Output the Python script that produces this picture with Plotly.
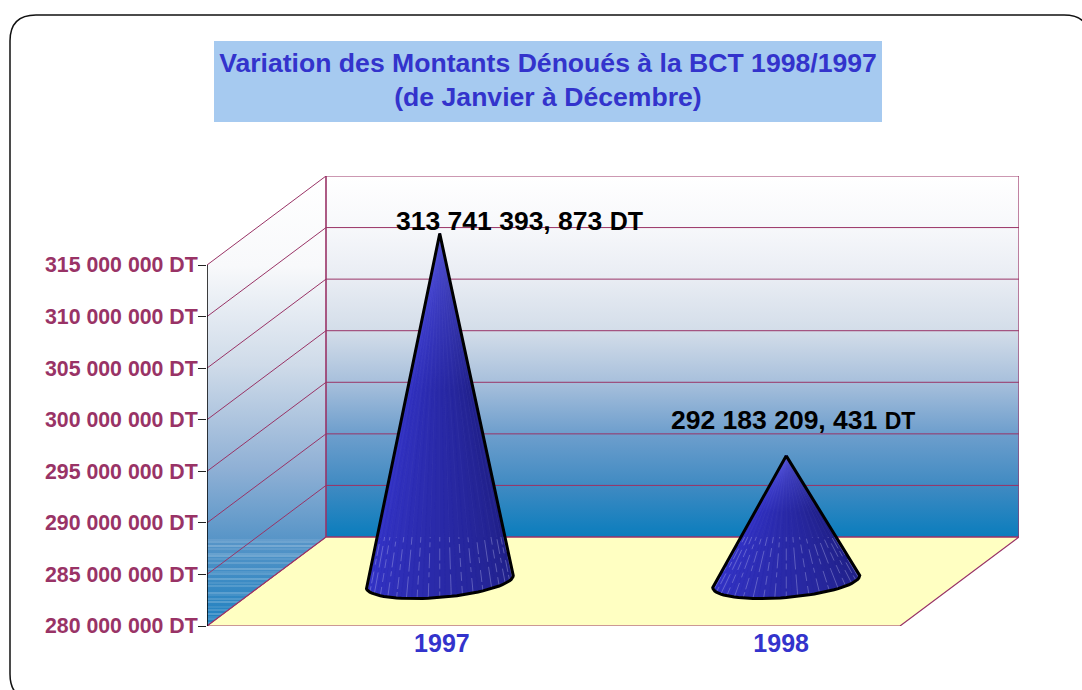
import math
import plotly.graph_objects as go

# ---- data ----
years = ["1997", "1998"]
values = [313741393.873, 292183209.431]
value_labels = ["313 741 393, 873", "292 183 209, 431"]
tick_values = [280e6, 285e6, 290e6, 295e6, 300e6, 305e6, 310e6, 315e6]
tick_labels = ["280 000 000 DT", "285 000 000 DT", "290 000 000 DT", "295 000 000 DT",
               "300 000 000 DT", "305 000 000 DT", "310 000 000 DT", "315 000 000 DT"]
title_text = "Variation des Montants Dénoués à la BCT 1998/1997<br>(de Janvier à Décembre)"

# ---- layout geometry ----
W, H = 1082, 690
L, R, T, B = 207, 900, 265, 626      # front plane of the 3D box in page pixels
YMIN, YMAX = tick_values[0], tick_values[-1]
n = len(years)
px_x = (R - L) / n                   # pixels per category
px_y = (B - T) / (YMAX - YMIN)       # pixels per value unit
DX = 119 / px_x                      # depth offset in category units
DY = 89 / px_y                       # depth offset in value units
top_back = YMAX + DY
floor_back = YMIN + DY
# the plot area spans the whole box, front plane plus depth
AREA_R = R + 119
AREA_T = T - 89

MAROON = "#993366"
BLUE = "#3333cc"


def paper(px, py):
    return (px - L) / (AREA_R - L), (B - py) / (B - AREA_T)


def poly(xs, ys, fill=None, gradient=None, line=None, width=1, dash=None):
    kw = dict(x=xs, y=ys, mode="lines", hoverinfo="skip", showlegend=False)
    kw["line"] = dict(color=line or "rgba(0,0,0,0)", width=width if line else 0)
    if dash:
        kw["line"]["dash"] = dash
    if fill or gradient:
        kw["fill"] = "toself"
    if fill:
        kw["fillcolor"] = fill
    if gradient:
        kw["fillgradient"] = gradient
    return go.Scatter(**kw)


wall_scale_back = [[0, "#0a7dbd"], [0.14, "#3f8ac2"], [0.29, "#6f9fcd"], [0.43, "#a8c0dc"],
                   [0.57, "#d3dde9"], [0.71, "#e8ecf3"], [0.86, "#f7f8fb"], [1, "#ffffff"]]
wall_scale_left = [[0, "#1e80c0"], [0.2, "#5a96c8"], [0.35, "#8fb0d5"], [0.58, "#cfdbe9"],
                   [0.8, "#f8f9fb"], [1, "#ffffff"]]

fig = go.Figure()

# back wall
fig.add_trace(poly([DX, n + DX, n + DX, DX, DX], [floor_back, floor_back, top_back, top_back, floor_back],
                   gradient=dict(type="vertical", colorscale=wall_scale_back, start=floor_back, stop=top_back)))
# left wall
fig.add_trace(poly([0, DX, DX, 0, 0], [YMIN, floor_back, top_back, YMAX, YMIN],
                   gradient=dict(type="vertical", colorscale=wall_scale_left, start=YMIN, stop=top_back)))
# pale banding low on the left wall
gaps = [3, 2, 4, 3, 5, 2, 3, 4, 6, 3, 2, 5, 4, 3, 7, 2, 4, 3, 5, 3, 4, 3, 2, 4]
py = 537
for i, g in enumerate(gaps):
    py += g
    if py >= 626:
        break
    v = YMIN + (B - py) / px_y
    xe = DX * (v - YMIN) / DY
    op = 0.18 + 0.22 * ((i * 7) % 3) / 2
    fig.add_trace(poly([0, xe], [v, v], line=f"rgba(255,255,255,{op})", width=1))
# floor
fig.add_trace(poly([0, DX, n + DX, n, 0], [YMIN, floor_back, floor_back, YMIN, YMIN], fill="#ffffc2",
                   line=MAROON, width=1.2))
# gridlines on the walls
for tv in tick_values:
    fig.add_trace(poly([0, DX, n + DX], [tv, tv + DY, tv + DY], line=MAROON, width=1))
# box edges
fig.add_trace(poly([DX, DX], [floor_back, top_back], line=MAROON, width=1.6))
fig.add_trace(poly([n + DX, n + DX], [floor_back, top_back], line=MAROON, width=1.2))
# value axis line, front plane only
fig.add_trace(poly([0, 0], [YMIN, YMAX], line="#000000", width=1.5))


def mix(a, b, f):
    return "rgb(%d,%d,%d)" % tuple(a[i] + (b[i] - a[i]) * f for i in range(3))


seam_dashes = ["9px,5px", "15px,6px,5px,4px", "6px,3px,12px,7px", "22px,5px"]
CONE_RX, CONE_TILT, CONE_RY = 73.5, 6.0, 16.0   # pixels
for i, (year, val) in enumerate(zip(years, values)):
    cx = i + 0.5 + DX / 2
    cy = YMIN + DY / 2
    apex = val + DY / 2

    def rim_t(u):
        t = math.pi * (1 - u)
        c = math.cos(t)
        return (cx + CONE_RX * c / px_x, cy + (CONE_TILT * c - CONE_RY * math.sin(t)) / px_y)

    N = 40
    pts = [rim_t(k / N) for k in range(N + 1)]
    sx = [cx] + [p[0] for p in pts] + [cx]
    sy = [apex] + [p[1] for p in pts] + [apex]
    fig.add_trace(poly(sx, sy, fill="#2a2aa6"))
    # shaded facets
    for k in range(N):
        f = (k + 0.5) / N
        if f < 0.5:
            col = mix((54, 54, 206), (42, 42, 168), f / 0.5)
        else:
            col = mix((42, 42, 168), (32, 32, 132), (f - 0.5) / 0.5)
        fig.add_trace(poly([cx, pts[k][0], pts[k + 1][0], cx], [apex, pts[k][1], pts[k + 1][1], apex],
                           fill=col, line=col, width=0.4))
    # lighter glow toward the apex
    fig.add_trace(poly(sx, sy, gradient=dict(type="vertical", start=cy, stop=apex,
                                             colorscale=[[0, "rgba(90,90,230,0)"], [0.55, "rgba(90,90,230,0)"],
                                                         [1, "rgba(100,100,240,0.6)"]])))
    # pale facet seams, strongest on the floor part of the cone
    for k in range(2, N, 2):
        bx, by = pts[k]
        frac = (floor_back - by) / (apex - by)
        fig.add_trace(poly([bx, bx + (cx - bx) * frac], [by, by + (apex - by) * frac],
                           line="rgba(205,205,245,0.42)", width=0.8, dash=seam_dashes[(k // 2) % 4]))
        fig.add_trace(poly([bx + (cx - bx) * frac, cx], [by + (apex - by) * frac, apex],
                           line="rgba(205,205,245,0.08)", width=0.6))
    # outline
    fig.add_trace(poly(sx, sy, line="#000000", width=3))

    fig.add_annotation(x=cx, y=apex, xref="x", yref="y", showarrow=False,
                       text=value_labels[i] + ' <span style="font-size:%dpx">DT</span>' % (25 if i == 0 else 23),
                       xshift=[80, 7][i], yshift=[12, 36][i], xanchor="center", yanchor="middle",
                       font=dict(family="Liberation Sans", size=26.5, color="#000000", weight="bold"))

# outer rounded frame, running off the right and bottom of the page
fx0, fx1, fy0, fy1, rad = 10, 1090, 15, 700, 26
p = {"z": paper(fx0 + rad, fy1), "y": paper(fx0, fy1), "a": paper(fx0, fy1 - rad), "b": paper(fx0, fy0 + rad),
     "c": paper(fx0, fy0), "d": paper(fx0 + rad, fy0), "e": paper(fx1 - rad, fy0), "f": paper(fx1, fy0),
     "g": paper(fx1, fy0 + rad)}
path = (f"M{p['z'][0]},{p['z'][1]} Q{p['y'][0]},{p['y'][1]} {p['a'][0]},{p['a'][1]} "
        f"L{p['b'][0]},{p['b'][1]} Q{p['c'][0]},{p['c'][1]} {p['d'][0]},{p['d'][1]} "
        f"L{p['e'][0]},{p['e'][1]} Q{p['f'][0]},{p['f'][1]} {p['g'][0]},{p['g'][1]}")
shapes = [dict(type="path", path=path, xref="paper", yref="paper", line=dict(color="#111111", width=1.5), layer="below")]
# title box
bx0, by0 = paper(214, 122)
bx1, by1 = paper(882, 41)
shapes.append(dict(type="rect", x0=bx0, x1=bx1, y0=by0, y1=by1, xref="paper", yref="paper",
                   fillcolor="#a6caf0", line=dict(width=0), layer="below"))

x_label_pos = [0.678, 1.657]

fig.update_layout(
    width=W, height=H, autosize=False,
    margin=dict(l=L, r=W - AREA_R, t=AREA_T, b=H - B, pad=0),
    paper_bgcolor="#ffffff", plot_bgcolor="rgba(0,0,0,0)",
    showlegend=False, shapes=shapes,
    title=dict(text=title_text, x=548 / W, y=1 - 71.5 / H, xanchor="center", yanchor="middle",
               xref="container", yref="container",
               font=dict(family="Liberation Sans", size=26.6, color=BLUE, weight="bold")),
    xaxis=dict(range=[0, n + DX], tickmode="array", tickvals=x_label_pos, ticktext=years,
               showgrid=False, zeroline=False, showline=False, ticks="",
               tickfont=dict(family="Liberation Sans", size=25, color=BLUE, weight="bold"), ticklabelstandoff=0),
    yaxis=dict(range=[YMIN, top_back], tickmode="array", tickvals=tick_values, ticktext=tick_labels,
               showgrid=False, zeroline=False, showline=False,
               ticks="outside", ticklen=8, tickwidth=1, tickcolor="#222222", ticklabelstandoff=-4,
               tickfont=dict(family="Liberation Sans", size=21.3, color=MAROON, weight="bold")),
)
fig.write_html("out.html", config=dict(displayModeBar=False),
               post_script="document.body.style.margin='0';document.body.style.overflow='hidden';")
